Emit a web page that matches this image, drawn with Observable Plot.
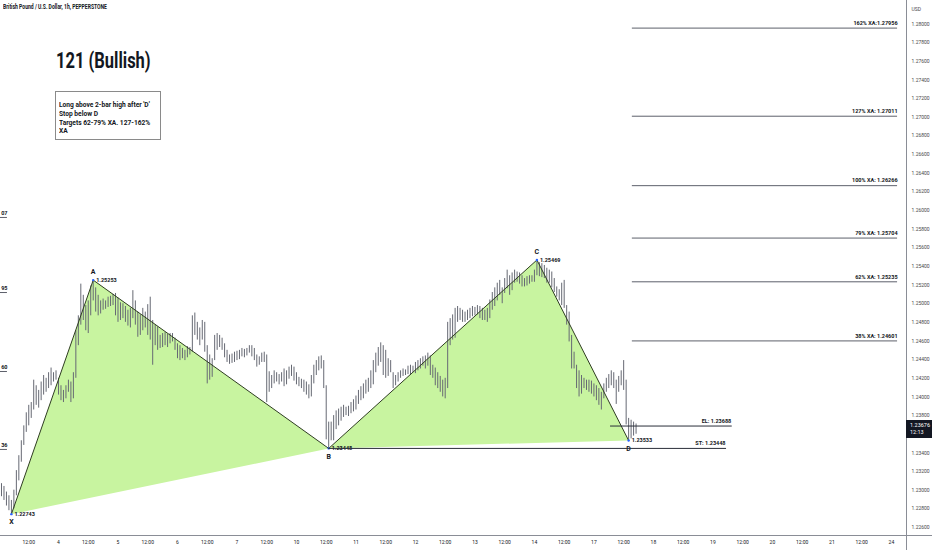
<!DOCTYPE html>
<html>
<head>
<meta charset="utf-8">
<script src="https://cdn.jsdelivr.net/npm/d3@7"></script>
<script src="https://cdn.jsdelivr.net/npm/@observablehq/plot@0.6"></script>
<style>
  body { margin: 0; background: #fff; }
  #wrap { position: relative; width: 932px; height: 550px; overflow: hidden; font-family: Roboto, "Liberation Sans", sans-serif; }
  #wrap svg { position: absolute; left: 0; top: 0; }
  .narrow { position: absolute; white-space: nowrap; transform-origin: 0 0; color: #131722; }
  #hdr { left: 3px; top: 3px; font-size: 7px; font-weight: 700; transform: scaleX(0.72); }
  #ttl { left: 56px; top: 48px; font-size: 22px; font-weight: 700; transform: scaleX(0.75); }
  #box { position: absolute; left: 55px; top: 91px; width: 104px; height: 47px; border: 1px solid #8a8a8a; background: #fff; }
  #box div { position: absolute; left: 3px; font-size: 8.1px; font-weight: 700; line-height: 8.1px; transform: scaleX(0.82); transform-origin: 0 0; white-space: nowrap; color: #131722; }
  #last { position: absolute; left: 906px; width: 26px; height: 18px; background: #131722; color: #fff; font-size: 5.5px; line-height: 7px; padding-left: 4px; box-sizing: border-box; padding-top: 2px; }
</style>
</head>
<body>
<div id="wrap">
  <div id="hdr" class="narrow">British Pound / U.S. Dollar, 1h, PEPPERSTONE</div>
  <div id="ttl" class="narrow">121 (Bullish)</div>
  <div id="box">
    <div style="top:8px">Long above 2-bar high after 'D'</div>
    <div style="top:17px">Stop below D</div>
    <div style="top:25.7px">Targets 62-79% XA. 127-162%</div>
    <div style="top:34.3px">XA</div>
  </div>
</div>
<script>
// hourly bars, GBPUSD 1h, bar 1 = first visible hour of the 3rd
const highs = [
  1.2307,1.2304,1.2298,1.2294,1.2289,1.2300,1.2321,1.2337,1.2353,1.2369,
  1.2383,1.2391,1.2394,1.2418,1.2412,1.2407,1.2416,1.2423,1.2420,1.2426,
  1.2431,1.2426,1.2428,1.2420,1.2412,1.2407,1.2412,1.2418,1.2416,1.2426,
  1.2471,1.2487,1.2521,1.2509,1.2498,1.2503,1.2519,1.25253,1.2517,1.2509,
  1.2503,1.2505,1.2503,1.2507,1.2508,1.2510,1.2511,1.2506,1.2501,1.2500,
  1.2497,1.2493,1.2495,1.2514,1.2503,1.2491,1.2488,1.2495,1.2491,1.2499,
  1.2507,1.2482,1.2477,1.2475,1.2466,1.2468,1.2469,1.2467,1.2468,1.2468,
  1.2463,1.2457,1.2455,1.2452,1.2450,1.2454,1.2453,1.2487,1.2490,1.2480,
  1.2474,1.2482,1.2480,1.2455,1.2445,1.2441,1.2466,1.2468,1.2466,1.2463,
  1.2457,1.2450,1.2445,1.2446,1.2448,1.2449,1.2450,1.2452,1.2451,1.2452,
  1.2455,1.2455,1.2452,1.2445,1.2443,1.2447,1.2448,1.2445,1.2427,1.2423,
  1.2428,1.2426,1.2424,1.2426,1.2430,1.2428,1.2432,1.2434,1.2432,1.2426,
  1.2421,1.2419,1.2418,1.2416,1.2413,1.2423,1.2434,1.2439,1.2443,1.2444,
  1.2439,1.2412,1.2373,1.2373,1.2380,1.2385,1.2387,1.2389,1.2391,1.2389,
  1.2390,1.2394,1.2397,1.2401,1.2407,1.2411,1.2414,1.2418,1.2420,1.2428,
  1.2439,1.2447,1.2453,1.2458,1.2455,1.2450,1.2441,1.2439,1.2426,1.2423,
  1.2426,1.2428,1.2430,1.2429,1.2433,1.2434,1.2433,1.2437,1.2439,1.2441,
  1.2443,1.2444,1.2447,1.2444,1.2434,1.2431,1.2426,1.2422,1.2418,1.2420,
  1.2480,1.2484,1.2488,1.2495,1.2497,1.2495,1.2493,1.2491,1.2493,1.2495,
  1.2497,1.2496,1.2498,1.2497,1.2495,1.2493,1.2495,1.2504,1.2512,1.2517,
  1.2522,1.2525,1.2517,1.2527,1.2536,1.2530,1.2533,1.2536,1.2534,1.2533,
  1.2530,1.2527,1.2529,1.2530,1.2530,1.2536,1.25469,1.2544,1.2543,1.2541,
  1.2538,1.2536,1.2534,1.2527,1.2518,1.2515,1.2522,1.2525,1.2498,1.2491,
  1.2466,1.2448,1.2434,1.2428,1.2423,1.2420,1.2418,1.2418,1.2417,1.2414,
  1.2412,1.2409,1.2405,1.2414,1.2420,1.2424,1.2428,1.2426,1.2418,1.2422,
  1.2428,1.2439,1.2418,1.2377,1.2375,1.2373,1.2371
];
const lows = [
  1.2293,1.2289,1.2283,1.2278,1.22743,1.2280,1.2294,1.2310,1.2330,1.2348,
  1.2362,1.2369,1.2377,1.2386,1.2391,1.2388,1.2396,1.2402,1.2405,1.2409,
  1.2412,1.2416,1.2418,1.2402,1.2396,1.2394,1.2398,1.2405,1.2394,1.2398,
  1.2420,1.2455,1.2477,1.2482,1.2471,1.2468,1.2487,1.2503,1.2491,1.2487,
  1.2489,1.2493,1.2494,1.2496,1.2497,1.2498,1.2487,1.2480,1.2482,1.2484,
  1.2480,1.2476,1.2474,1.2484,1.2477,1.2464,1.2466,1.2471,1.2474,1.2466,
  1.2461,1.2434,1.2455,1.2450,1.2452,1.2453,1.2455,1.2453,1.2457,1.2459,
  1.2450,1.2441,1.2439,1.2441,1.2439,1.2442,1.2445,1.2448,1.2466,1.2461,
  1.2455,1.2461,1.2448,1.2414,1.2418,1.2421,1.2439,1.2450,1.2453,1.2450,
  1.2442,1.2437,1.2435,1.2436,1.2437,1.2439,1.2440,1.2443,1.2442,1.2444,
  1.2447,1.2443,1.2439,1.2432,1.2434,1.2437,1.2437,1.2394,1.2405,1.2409,
  1.2414,1.2416,1.2413,1.2416,1.2411,1.2413,1.2419,1.2422,1.2417,1.2413,
  1.2411,1.2409,1.2405,1.2402,1.2398,1.2400,1.2414,1.2423,1.2428,1.2430,
  1.2409,1.2354,1.23448,1.2353,1.2353,1.2365,1.2369,1.2374,1.2378,1.2380,
  1.2379,1.2382,1.2384,1.2386,1.2392,1.2396,1.2398,1.2403,1.2405,1.2409,
  1.2413,1.2426,1.2433,1.2437,1.2423,1.2420,1.2422,1.2426,1.2409,1.2412,
  1.2416,1.2420,1.2422,1.2423,1.2424,1.2423,1.2426,1.2425,1.2428,1.2430,
  1.2433,1.2430,1.2433,1.2423,1.2420,1.2412,1.2409,1.2405,1.2400,1.2398,
  1.2409,1.2455,1.2461,1.2463,1.2480,1.2482,1.2480,1.2480,1.2482,1.2484,
  1.2486,1.2487,1.2488,1.2484,1.2482,1.2482,1.2480,1.2484,1.2493,1.2497,
  1.2503,1.2509,1.2500,1.2511,1.2516,1.2509,1.2514,1.2522,1.2523,1.2521,
  1.2518,1.2518,1.2519,1.2521,1.2523,1.2523,1.2530,1.2529,1.2528,1.2527,
  1.2522,1.2522,1.2517,1.2512,1.2507,1.2503,1.2498,1.2495,1.2477,1.2459,
  1.2430,1.2430,1.2409,1.2400,1.2403,1.2409,1.2407,1.2405,1.2403,1.2400,
  1.2396,1.2391,1.2386,1.2398,1.2405,1.2409,1.2412,1.2409,1.2392,1.2405,
  1.2412,1.2407,1.2370,1.23533,1.2355,1.2358,1.2360
];

// harmonic pattern pivots (bar number, price)
const pivotNames = ["X", "A", "B", "C", "D"];
const pivotBars = [5, 38, 133, 217, 254];
const pivotPrices = [1.22743, 1.25253, 1.23448, 1.25469, 1.23533];
const pivotIsLow = [true, false, true, false, true];

// fib targets
const fibLabels = ["162% XA:1.27956", "127% XA: 1.27011", "100% XA: 1.26266", "79% XA: 1.25704", "62% XA: 1.25235", "38% XA: 1.24601"];
const fibPrices = [1.27956, 1.27011, 1.26266, 1.25704, 1.25235, 1.24601];

const entryLabels = ["EL: 1.23688", "ST: 1.23448"];
const entryPrices = [1.23688, 1.23448];
const entryFrom = [246.7, 133];
const entryTo = [295.8, 293.5];

// cut-off labels at the left edge
const edgeLabels = ["07", "95", "60", "36"];
const edgePrices = [1.25925, 1.2512, 1.24273, 1.23437];

const tickBars = [12,24,36,48,60,72,84,96,108,120,132,144,156,168,180,192,204,216,228,240,252,264,276,288,300,312,324,336,348,360];
const tickLabels = ["12:00","4","12:00","5","12:00","6","12:00","7","12:00","10","12:00","11","12:00","12","12:00","13","12:00","14","12:00","17","12:00","18","12:00","19","12:00","20","12:00","21","12:00","24"];
const weekStarts = ["10", "17", "24"];

// 1.23600 sits under the last-price tag, so it is not shown
const priceTicks = [1.226,1.228,1.230,1.232,1.234,1.238,1.240,1.242,1.244,1.246,1.248,1.250,1.252,1.254,1.256,1.258,1.260,1.262,1.264,1.266,1.268,1.270,1.272,1.274,1.276,1.278,1.280];

const lastPrice = 1.23676;
const lastTime = "12:13";

const bars = highs.map((h, k) => ({ bar: k + 1, high: h, low: lows[k] }));
const pivots = pivotNames.map((n, k) => ({ name: n, bar: pivotBars[k], price: pivotPrices[k], low: pivotIsLow[k] }));
const tri = [
  ...[0, 1, 2].map(k => ({ g: 1, bar: pivotBars[k], price: pivotPrices[k] })),
  ...[2, 3, 4].map(k => ({ g: 2, bar: pivotBars[k], price: pivotPrices[k] }))
];
const fibs = fibLabels.map((t, k) => ({ label: t, price: fibPrices[k] }));
const entries = entryLabels.map((t, k) => ({ label: t, price: entryPrices[k], from: entryFrom[k], to: entryTo[k] }));
const edges = edgeLabels.map((t, k) => ({ label: t, price: edgePrices[k] }));
const ticks = tickBars.map((b, k) => ({ bar: b, label: tickLabels[k] }));

const ink = "#131722";
const fibStart = 255.5, fibEnd = 362.5;

const chart = Plot.plot({
  width: 932,
  height: 550,
  marginLeft: 0,
  marginRight: 26,
  marginTop: 0,
  marginBottom: 15,
  style: { background: "transparent", fontFamily: "Roboto, 'Liberation Sans', sans-serif", fontSize: 5.5, color: "#4a4a4a", overflow: "visible" },
  x: { domain: [0.6, 366.1], axis: null },
  y: { domain: [1.22514, 1.28252], axis: null },
  marks: [
    Plot.line(tri, { x: "bar", y: "price", z: "g", fill: "#c8f4a0", stroke: "none" }),
    Plot.ruleX(bars, { x: "bar", y1: "low", y2: "high", stroke: "#666973", strokeWidth: 1 }),
    Plot.line(pivots, { x: "bar", y: "price", stroke: "#2f3d22", strokeWidth: 1 }),
    Plot.dot(pivots, { x: "bar", y: "price", r: 1.2, fill: "#2962ff" }),
    Plot.text(pivots, { filter: d => d.low, x: "bar", y: "price", text: "name", dy: 8, fontWeight: 700, fontSize: 7, fill: ink }),
    Plot.text(pivots, { filter: d => !d.low, x: "bar", y: "price", text: "name", dy: -8, fontWeight: 700, fontSize: 7, fill: ink }),
    Plot.text(pivots, { x: "bar", y: "price", text: d => d.price.toFixed(5), textAnchor: "start", dx: 3, fontSize: 5.5, fontWeight: 700, fill: ink }),
    Plot.ruleY(fibs, { y: "price", x1: fibStart, x2: fibEnd, stroke: "#5d606b", strokeWidth: 1 }),
    Plot.text(fibs, { x: fibEnd, y: "price", text: "label", textAnchor: "end", dy: -5, fontSize: 5.5, fontWeight: 700, fill: ink }),
    Plot.ruleY(entries, { y: "price", x1: "from", x2: "to", stroke: "#2a2e39", strokeWidth: 1 }),
    Plot.text(entries, { x: "to", y: "price", text: "label", textAnchor: "end", dx: -1, dy: -5, fontSize: 5.5, fontWeight: 700, fill: ink }),
    Plot.ruleY(edges, { y: "price", x1: 0.6, x2: 3.4, stroke: "#5d606b", strokeWidth: 1 }),
    Plot.text(edges, { x: 3.4, y: "price", text: "label", textAnchor: "end", dy: -4, fontSize: 5.5, fontWeight: 700, fill: ink }),
    Plot.ruleX([366.1], { stroke: "#8a8d96", strokeWidth: 1, insetBottom: -15 }),
    Plot.ruleY([1.22514], { stroke: "#8a8d96", strokeWidth: 1, insetRight: -26 }),
    Plot.axisY(priceTicks, { anchor: "right", tickSize: 0, tickPadding: 5, tickFormat: d => d.toFixed(5), fontSize: 5, fill: "#4a4a4a" }),
    Plot.text(ticks, { x: "bar", frameAnchor: "bottom", dy: 8, text: "label", fontSize: 5, fill: ink,
      fontWeight: d => weekStarts.includes(d.label) ? 700 : 400 }),
    Plot.text(["USD"], { frameAnchor: "top-right", dx: 5, dy: 7, text: d => d, fontSize: 5, fill: "#4a4a4a", textAnchor: "start" })
  ]
});

document.getElementById("wrap").appendChild(chart);

// current price tag on the axis
const ys = chart.scale("y");
const last = document.createElement("div");
last.id = "last";
last.style.top = (ys.apply(lastPrice) - 7) + "px";
last.innerHTML = lastPrice.toFixed(5) + "<br>" + lastTime;
document.getElementById("wrap").appendChild(last);
</script>
</body>
</html>
